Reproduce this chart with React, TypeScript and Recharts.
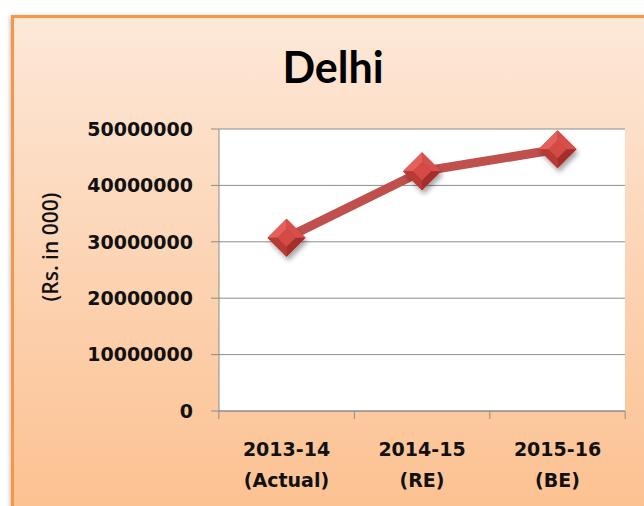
import React from "react";
import {
  LineChart,
  Line,
  XAxis,
  YAxis,
  CartesianGrid,
  Label,
} from "recharts";

// Delhi budget figures (Rs. in 000)
const years = ["2013-14", "2014-15", "2015-16"];
const stages = ["(Actual)", "(RE)", "(BE)"];
const amounts = [30700000, 42500000, 46400000];
const yTicks = [0, 10000000, 20000000, 30000000, 40000000, 50000000];

const data = years.map((y, i) => ({
  year: y,
  stage: stages[i],
  value: amounts[i],
}));

const GRID = "#8c8c8c";
const TICK_FONT = "'DejaVu Sans', sans-serif";

const DiamondDot = (props: any) => {
  const { cx, cy, index } = props;
  if (cx == null || cy == null) return null;
  const r = 19;
  const k = 9;
  const id = `sh-${index}`;
  return (
    <g>
      <defs>
        <filter id={id} x="-50%" y="-50%" width="200%" height="200%">
          <feDropShadow dx="2" dy="4" stdDeviation="2.5" floodColor="#000" floodOpacity="0.35" />
        </filter>
      </defs>
      <g filter={`url(#${id})`}>
        <polygon
          points={`${cx},${cy - r} ${cx + r},${cy} ${cx},${cy + r} ${cx - r},${cy}`}
          fill="#c4403c"
        />
      </g>
      {/* bevel facets */}
      <polygon
        points={`${cx},${cy - r} ${cx - r},${cy} ${cx - k},${cy} ${cx},${cy - k}`}
        fill="#e4605b"
      />
      <polygon
        points={`${cx},${cy - r} ${cx + r},${cy} ${cx + k},${cy} ${cx},${cy - k}`}
        fill="#d64f4a"
      />
      <polygon
        points={`${cx + r},${cy} ${cx},${cy + r} ${cx},${cy + k} ${cx + k},${cy}`}
        fill="#a52e2b"
      />
      <polygon
        points={`${cx - r},${cy} ${cx},${cy + r} ${cx},${cy + k} ${cx - k},${cy}`}
        fill="#b83936"
      />
      <polygon
        points={`${cx},${cy - k} ${cx + k},${cy} ${cx},${cy + k} ${cx - k},${cy}`}
        fill="#d44a45"
      />
    </g>
  );
};

// two-line category label plus tick marks on the band edges
const CategoryTick = (props: any) => {
  const { x, y, payload, index, width, visibleTicksCount } = props;
  const band = width / (visibleTicksCount || years.length);
  const left = x - band / 2;
  const right = x + band / 2;
  const last = index === (visibleTicksCount || years.length) - 1;
  return (
    <g>
      <line x1={left} x2={left} y1={y} y2={y + 8} stroke={GRID} />
      {last && <line x1={right} x2={right} y1={y} y2={y + 8} stroke={GRID} />}
      <text
        x={x}
        y={y}
        textAnchor="middle"
        fill="#111"
        fontFamily={TICK_FONT}
        fontWeight="bold"
        fontSize={19}
      >
        <tspan x={x} dy={45}>
          {payload.value}
        </tspan>
        <tspan x={x} dy={31}>
          {stages[index]}
        </tspan>
      </text>
    </g>
  );
};

export default function App() {
  return (
    <div
      style={{
        position: "absolute",
        left: 0,
        top: 0,
        width: 644,
        height: 506,
        overflow: "hidden",
        background: "#fff",
      }}
    >
      <div
        style={{
          position: "absolute",
          left: 11,
          top: 15,
          width: 660,
          height: 520,
          border: "3px solid #f79646",
          background: "linear-gradient(to bottom, #fde8d8 0%, #fcd3b2 50%, #fcbf8d 100%)",
          boxShadow: "-1px 1px 4px rgba(0,0,0,0.25)",
        }}
      />
      <div
        style={{
          position: "absolute",
          left: 233,
          top: 39,
          width: 200,
          textAlign: "center",
          fontFamily: "Lato, sans-serif",
          fontWeight: 700,
          fontSize: 43,
          lineHeight: "56px",
          color: "#000",
        }}
      >
        Delhi
      </div>
      <div style={{ position: "absolute", left: 0, top: 0 }}>
        <LineChart
          width={644}
          height={506}
          data={data}
          margin={{ top: 129, right: 19, bottom: 35, left: 0 }}
        >
          <CartesianGrid
            vertical={false}
            stroke={GRID}
            fill="#ffffff"
            fillOpacity={1}
          />
          <XAxis
            dataKey="year"
            padding={{ left: 67.5, right: 67.5 }}
            axisLine={{ stroke: GRID }}
            tickLine={false}
            tickSize={0}
            tickMargin={0}
            tick={<CategoryTick />}
            height={60}
            interval={0}
          />
          <YAxis
            width={219}
            domain={[0, 50000000]}
            ticks={yTicks}
            interval={0}
            axisLine={{ stroke: GRID }}
            tickLine={{ stroke: GRID }}
            tickSize={8}
            tickMargin={18}
            tick={{
              fill: "#111",
              fontFamily: TICK_FONT,
              fontWeight: "bold",
              fontSize: 19,
            }}
          >
            <Label
              content={() => (
                <text
                  x={50}
                  y={247}
                  transform="rotate(-90, 50, 247)"
                  textAnchor="middle"
                  dominantBaseline="central"
                  fontFamily="'Open Sans', sans-serif"
                  fontWeight={600}
                  fontSize={21}
                  fill="#111"
                >
                  (Rs. in 000)
                </text>
              )}
            />
          </YAxis>
          <Line
            type="linear"
            dataKey="value"
            stroke="#c0504d"
            strokeWidth={9}
            dot={<DiamondDot />}
            activeDot={false}
            isAnimationActive={false}
          />
        </LineChart>
      </div>
    </div>
  );
}
